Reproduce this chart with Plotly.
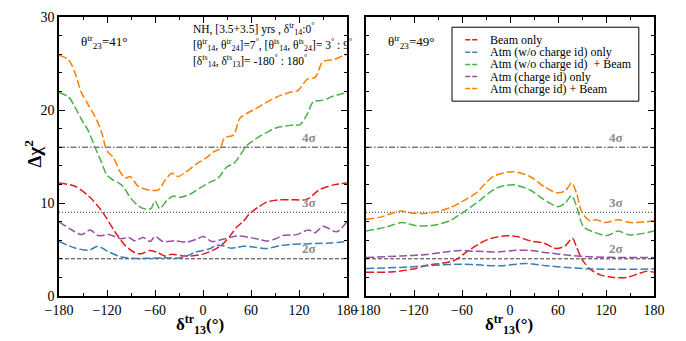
import plotly.graph_objects as go

# ---------------- data (left panel: theta23 = 41 deg) ----------------
names = ["Beam only", "Atm (w/o charge id) only", "Atm (w/o charge id)  + Beam",
         "Atm (charge id) only", "Atm (charge id) + Beam"]
colors = ["#e41a1c", "#377eb8", "#4daf4a", "#984ea3", "#ff7f00"]

red_L_x = [-180,-160,-143,-127,-110,-98,-85,-77,-66,-56,-48,-39,-25,-10,0,12,25,35,42,50,59,70,80,96,110,130,146,163,180]
red_L_y = [12.15,11.8,10.75,9.2,6.9,5.5,4.65,4.55,4.9,4.65,4.3,4.5,4.3,4.35,4.5,4.9,5.6,6.6,7.4,8.0,8.9,9.6,10.1,10.35,10.35,10.4,11.45,11.95,12.15]

blue_L_x = [-180,-160,-143,-131,-118,-102,-89,-70,-50,-25,-10,0,9,17,25,34,42,50,65,80,95,109,125,142,160,180]
blue_L_y = [5.86,5.16,4.92,5.34,4.75,4.19,4.05,4.05,4.1,4.15,4.7,4.9,5.1,5.45,5.4,5.15,5.2,5.35,5.25,5.1,5.4,5.55,5.6,5.65,5.7,5.86]

green_L_x = [-180,-168,-160,-152,-143,-135,-127,-120,-113,-106,-100,-91,-81,-72,-65,-60,-54,-45,-37,-29,-15,-4,8,19,30,38,47,55,63,71,80,92,105,113,121,130,138,146,155,163,172,180]
green_L_y = [21.9,21.4,20.3,19.0,17.7,16.0,14.4,13.0,12.5,12.2,11.8,10.6,9.7,9.35,9.4,10.2,9.4,10.3,10.75,10.6,11.0,11.6,12.2,12.7,13.9,14.2,15.2,16.2,16.7,17.2,17.6,18.1,18.3,18.4,18.4,19.5,20.9,21.0,21.2,21.5,21.7,21.9]

purple_L_x = [-180,-164,-152,-141,-131,-118,-102,-93,-85,-75,-66,-60,-50,-35,-20,-8,0,11,25,42,58,70,80,92,100,117,132,140,150,167,180]
purple_L_y = [7.96,7.1,6.6,7.1,6.5,6.6,6.15,6.3,5.93,6.3,5.86,6.4,5.86,5.93,5.8,6.1,6.4,5.86,6.1,6.45,6.3,6.1,5.9,6.2,6.5,6.6,7.1,6.8,7.5,6.9,8.0]

orange_L_x = [-180,-168,-160,-152,-143,-135,-127,-120,-112,-104,-97,-91,-81,-68,-56,-47,-39,-31,-22,-8,5,13,21,27,38,46,55,65,75,92,109,119,130,140,150,163,177,180]
orange_L_y = [25.9,25.4,24.0,21.9,20.5,19.3,17.7,15.6,14.9,13.4,12.7,12.85,11.8,11.4,11.4,12.5,13.2,12.85,13.3,14.2,14.9,15.5,15.8,17.0,17.3,19.1,19.65,20.1,20.6,21.4,21.9,22.1,23.3,23.5,25.2,25.4,25.9,26.0]

# ---------------- data (right panel: theta23 = 49 deg) ----------------
red_R_x = [-180,-146,-121,-104,-71,-50,-29,-8,8,25,42,58,69,78,83,90,100,112,129,146,162,171,180]
red_R_y = [2.55,2.6,2.9,3.3,3.77,5.0,6.04,6.46,6.4,5.93,5.7,5.1,5.4,6.2,5.3,3.95,2.9,2.3,2.0,2.0,2.44,2.65,2.55]

blue_R_x = [-180,-137,-104,-62,-42,-12,21,46,71,104,180]
blue_R_y = [2.97,3.07,3.25,3.42,3.35,3.25,3.5,3.25,3.07,2.9,2.9]

green_R_x = [-180,-154,-135,-117,-96,-75,-62,-42,-17,4,25,42,60,69,77,83,92,104,121,135,150,180]
green_R_y = [6.98,7.43,7.9,7.56,7.6,8.1,8.8,10.0,11.6,11.95,11.4,10.4,9.6,10.0,10.8,9.7,7.43,6.9,6.5,6.98,6.56,6.98]

purple_R_x = [-180,-137,-104,-79,-62,-42,-12,4,25,46,71,104,146,180]
purple_R_y = [4.14,4.3,4.47,4.75,4.9,4.8,4.75,4.9,4.9,4.66,4.4,4.2,4.14,4.14]

orange_R_x = [-180,-162,-137,-121,-96,-75,-62,-42,-21,4,25,42,58,69,77,83,90,100,108,119,135,150,167,180]
orange_R_y = [8.24,8.48,9.14,8.9,8.97,9.5,10.05,11.1,12.85,13.37,12.85,11.8,11.1,11.3,12.15,11.1,9.0,8.1,8.2,7.9,8.2,7.9,7.95,8.1]

sigma_levels = [4, 9, 16]
sigma_labels = ["2σ", "3σ", "4σ"]
sigma_dash = ["4px,2px", "1px,2px", "6px,2px,1.5px,2px"]

x_ticks = [-180, -120, -60, 0, 60, 120, 180]
y_ticks = [0, 10, 20, 30]

left_series = [(red_L_x, red_L_y), (blue_L_x, blue_L_y), (green_L_x, green_L_y),
               (purple_L_x, purple_L_y), (orange_L_x, orange_L_y)]
right_series = [(red_R_x, red_R_y), (blue_R_x, blue_R_y), (green_R_x, green_R_y),
                (purple_R_x, purple_R_y), (orange_R_x, orange_R_y)]

FONT = "'Liberation Serif', 'Times New Roman', 'DejaVu Serif', serif"
W, H = 686, 341
ML, MR, MT, MB = 59, 32, 10, 45
PW = W - ML - MR

fig = go.Figure()
for (xs, ys), c, n in zip(left_series, colors, names):
    fig.add_trace(go.Scatter(x=xs, y=ys, mode="lines", name=n, showlegend=False,
                             line=dict(color=c, width=1.5, dash="8px,3px", shape="spline", smoothing=0.8),
                             xaxis="x", yaxis="y"))
for (xs, ys), c, n in zip(right_series, colors, names):
    fig.add_trace(go.Scatter(x=xs, y=ys, mode="lines", name=n, showlegend=False,
                             line=dict(color=c, width=1.5, dash="8px,3px", shape="spline", smoothing=0.8),
                             xaxis="x2", yaxis="y2"))

shapes = []
annotations = []
for lvl, lab, d in zip(sigma_levels, sigma_labels, sigma_dash):
    for xr, yr in (("x", "y"), ("x2", "y2")):
        shapes.append(dict(type="line", xref=xr, yref=yr, x0=-180, x1=180, y0=lvl, y1=lvl,
                           line=dict(color="#222222", width=0.9, dash=d), layer="below"))
        annotations.append(dict(xref=xr, yref=yr, x=132, y=lvl + 0.05, text="<b>%s</b>" % lab,
                                showarrow=False, xanchor="center", yanchor="bottom",
                                font=dict(family=FONT, size=13, color="#8c8c8c")))

for xr, yr, t in (("x", "y", "θ<sup>tr</sup><sub>23</sub>=41°"), ("x2", "y2", "θ<sup>tr</sup><sub>23</sub>=49°")):
    annotations.append(dict(xref=xr, yref=yr, x=-155, y=27.3, text=t, showarrow=False,
                            xanchor="left", yanchor="middle", font=dict(family=FONT, size=13, color="black")))

info_lines = ["NH, [3.5+3.5] yrs , δ<sup>tr</sup><sub>14</sub>:0<sup>°</sup>",
              "[θ<sup>tr</sup><sub>14</sub>, θ<sup>tr</sup><sub>24</sub>]=7<sup>°</sup>, [θ<sup>ts</sup><sub>14</sub>, θ<sup>ts</sup><sub>24</sub>]= 3<sup>°</sup> : 9<sup>°</sup>",
              "[δ<sup>ts</sup><sub>14</sub>, δ<sup>ts</sup><sub>13</sub>]= -180<sup>°</sup> : 180<sup>°</sup>"]
info_y = [28.7, 27.0, 25.3]
for t, yy in zip(info_lines, info_y):
    annotations.append(dict(xref="x", yref="y", x=-15, y=yy, text=t, showarrow=False,
                            xanchor="left", yanchor="middle", font=dict(family=FONT, size=11.5, color="black")))

shapes.append(dict(type="rect", xref="x2", yref="y2", x0=-72.5, x1=161, y0=20.95, y1=28.9,
                   line=dict(color="black", width=1), fillcolor="white", layer="above"))
leg_y = [27.55, 26.2, 24.9, 23.6, 22.3]
for n, c, yy in zip(names, colors, leg_y):
    shapes.append(dict(type="line", xref="x2", yref="y2", x0=-56, x1=-41, y0=yy, y1=yy,
                       line=dict(color=c, width=1.5, dash="5px,2px"), layer="above"))
    annotations.append(dict(xref="x2", yref="y2", x=-28, y=yy, text=n, showarrow=False,
                            xanchor="left", yanchor="middle", font=dict(family=FONT, size=12, color="black")))

annotations.append(dict(xref="paper", yref="paper", x=(33 - ML) / PW, y=1 - (150 - MT) / (H - MT - MB),
                        text="<b>Δχ<sup>2</sup></b>", textangle=-90, showarrow=False,
                        xanchor="center", yanchor="middle", font=dict(family=FONT, size=19, color="black")))
for xc in (200, 509):
    annotations.append(dict(xref="paper", yref="paper", x=(xc - ML) / PW, y=-(325 - (H - MB)) / (H - MT - MB),
                            text="<b>δ<sup>tr</sup><sub>13</sub>(°)</b>", showarrow=False,
                            xanchor="center", yanchor="middle", font=dict(family=FONT, size=17, color="black")))

axis_common = dict(showline=True, linecolor="black", linewidth=1.5, mirror="ticks",
                   ticks="inside", ticklen=6, tickwidth=1, tickcolor="black",
                   showgrid=False, zeroline=False,
                   tickfont=dict(family=FONT, size=14, color="black"))

fig.update_layout(
    width=W, height=H, margin=dict(l=ML, r=MR, t=MT, b=MB),
    paper_bgcolor="white", plot_bgcolor="white",
    font=dict(family=FONT),
    shapes=shapes, annotations=annotations,
    xaxis=dict(domain=[0, 288 / PW], range=[-180, 180], tickvals=x_ticks,
               minor=dict(ticks="inside", dtick=30, ticklen=3, tickcolor="black"), **axis_common),
    xaxis2=dict(domain=[(366 - ML) / PW, 1], range=[-180, 180], tickvals=x_ticks, anchor="y2",
                minor=dict(ticks="inside", dtick=30, ticklen=3, tickcolor="black"), **axis_common),
    yaxis=dict(range=[0, 30], tickvals=y_ticks, anchor="x",
               minor=dict(ticks="inside", dtick=2, ticklen=3, tickcolor="black"), **axis_common),
    yaxis2=dict(range=[0, 30], tickvals=y_ticks, anchor="x2", showticklabels=False,
                minor=dict(ticks="inside", dtick=2, ticklen=3, tickcolor="black"), **axis_common),
)

fig.write_html("out.html")
